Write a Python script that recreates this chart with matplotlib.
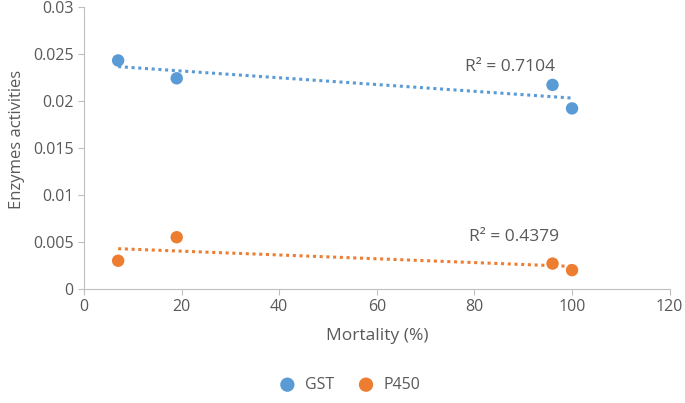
import numpy as np
import matplotlib.pyplot as plt

plt.rcParams['font.family'] = ['Open Sans', 'DejaVu Sans']

# data
mortality = [7, 19, 96, 100]
gst = [0.0243, 0.0224, 0.0217, 0.0192]
p450 = [0.0030, 0.0055, 0.0027, 0.0020]
r2_labels = ['R² = 0.7104', 'R² = 0.4379']
series_names = ['GST', 'P450']
colors = ['#5B9BD5', '#ED7D31']

fig = plt.figure(figsize=(6.85, 4.03), dpi=100)
ax = fig.add_axes([0.1226, 0.283, 0.855, 0.7])

x = np.array(mortality)
label_pos = [(87.2, 0.0236), (88.2, 0.0055)]
for ys, name, c, lab, pos in zip([gst, p450], series_names, colors, r2_labels, label_pos):
    ax.scatter(x, ys, s=80, color=c, label=name, zorder=3, edgecolors='none')
    # linear trendline fitted to the points
    k, b = np.polyfit(x, ys, 1)
    xx = np.array([x.min(), x.max()])
    ax.plot(xx, k * xx + b, color=c, linestyle=(0, (1, 1.2)), linewidth=2.2, zorder=2)
    ax.text(pos[0], pos[1], lab, ha='center', va='center', fontsize=12.5, color='#595959')

ax.set_xlim(0, 120)
ax.set_ylim(0, 0.03)
ax.set_xticks(np.arange(0, 121, 20))
ax.set_yticks([0, 0.005, 0.01, 0.015, 0.02, 0.025, 0.03])
ax.set_yticklabels(['0', '0.005', '0.01', '0.015', '0.02', '0.025', '0.03'])

for s in ['top', 'right']:
    ax.spines[s].set_visible(False)
for s in ['left', 'bottom']:
    ax.spines[s].set_color('#BFBFBF')
ax.tick_params(colors='#BFBFBF', labelcolor='#595959', labelsize=11.5, length=4)

ax.set_xlabel('Mortality (%)', fontsize=12.5, color='#595959', labelpad=9)
ax.set_ylabel('Enzymes activities', fontsize=12, color='#595959', labelpad=4)
ax.yaxis.set_label_coords(-0.1, 0.53)

fig.legend(loc='center', bbox_to_anchor=(0.505, 0.045), ncol=2, frameon=False,
           fontsize=11.5, labelcolor='#595959', handletextpad=0.1, columnspacing=1.0,
           markerscale=1.15)

plt.savefig('out.png', dpi=100)
